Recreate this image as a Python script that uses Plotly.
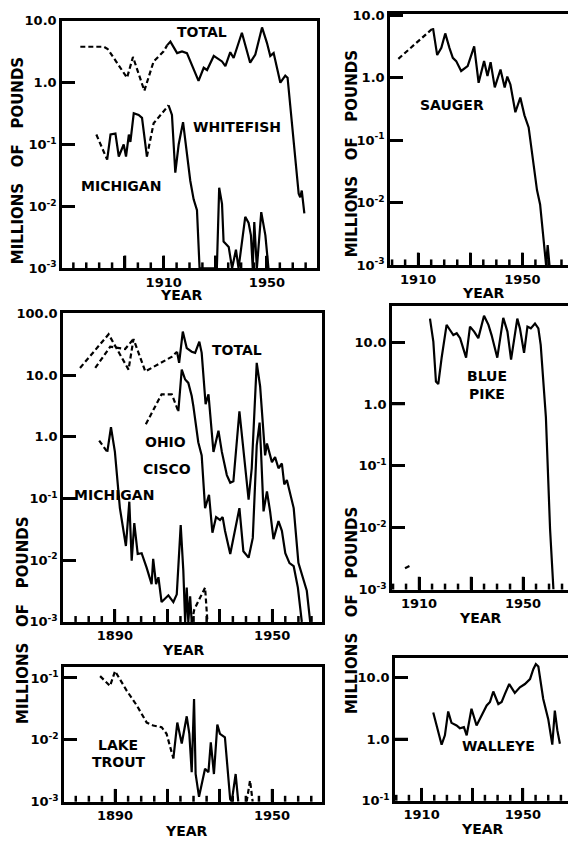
import math
import plotly.graph_objects as go

W, H = 568, 848
FONT = "DejaVu Sans"

# ---------------- DATA (millions of pounds) ----------------
# Whitefish
wf_total_early_years = [1877.7, 1882, 1886.8, 1888.3, 1895.8, 1898.1, 1902.5, 1906.1, 1910, 1911.3]
wf_total_early = [3.8, 3.8, 3.8, 3.5, 1.2, 2.6, 0.74, 2.2, 3.2, 4.0]
wf_total_years = [1911.3, 1912.6, 1915.2, 1917.1, 1919, 1923.5, 1925.5, 1926.8, 1929.4, 1932.6, 1933.9,
                  1935.8, 1937.1, 1940.3, 1943.5, 1945.5, 1948.1, 1950, 1951.3, 1952.6, 1955.2, 1957.1,
                  1958, 1962.3, 1962.9, 1963.5, 1964.5]
wf_total = [4.0, 4.6, 3.0, 3.2, 3.0, 1.07, 1.74, 1.6, 2.7, 2.2, 1.85, 3.1, 2.5, 6.4, 2.1, 2.85, 7.8,
            4.4, 2.7, 3.0, 1.0, 1.3, 1.2, 0.016, 0.014, 0.018, 0.0077]
wf_mich_early_years = [1883.9, 1888.1]
wf_mich_early = [0.145, 0.057]
wf_mich_a_years = [1888.1, 1889.4, 1891.3, 1892.6, 1894.5, 1895.4, 1896.5, 1897.1, 1898.4, 1900.3,
                   1901.6, 1903.5]
wf_mich_a = [0.057, 0.145, 0.15, 0.064, 0.1, 0.064, 0.145, 0.11, 0.32, 0.3, 0.27, 0.064]
wf_mich_gap_years = [1903.5, 1906.1, 1911.9]
wf_mich_gap = [0.064, 0.22, 0.43]
wf_mich_b_years = [1911.9, 1913.2, 1914.5, 1915.8, 1917.5, 1920.3, 1921.6, 1922.9, 1923.9, 1930.6,
                   1931.5, 1932.6, 1933.2, 1935.2, 1936.5, 1938, 1939, 1941.6, 1942.9, 1943.8, 1944.5,
                   1945.1, 1946.1, 1947.8, 1949.4, 1950.6]
wf_mich_b = [0.43, 0.3, 0.035, 0.1, 0.23, 0.026, 0.013, 0.0087, 0.001, 0.001, 0.02, 0.011, 0.0027,
             0.0022, 0.001, 0.002, 0.001, 0.0068, 0.0054, 0.0034, 0.001, 0.0056, 0.001, 0.0081,
             0.0034, 0.001]

# Sauger
sg_early_years = [1902.4, 1915.7]
sg_early = [2.0, 6.2]
sg_years = [1915.7, 1917.3, 1918.9, 1920.4, 1922, 1923.3, 1924.6, 1926.5, 1929, 1931.5, 1933.2, 1935.3,
            1936.6, 1937.8, 1939.4, 1941.6, 1943.2, 1944.2, 1945.4, 1947.3, 1949.2, 1950.8, 1952.4,
            1955.6, 1956.8, 1959.1, 1959.7, 1960.4]
sg = [6.2, 2.3, 3.0, 5.1, 3.0, 2.07, 1.84, 1.28, 1.53, 3.16, 0.83, 1.84, 1.06, 1.77, 0.7, 1.35, 0.7,
      1.04, 0.78, 0.28, 0.48, 0.25, 0.16, 0.016, 0.0094, 0.001, 0.0021, 0.001]

# Cisco
ci_total_early_years = [1876.7, 1887.6, 1895.2, 1897.1, 1901.6, 1911.8, 1913.7]
ci_total_early = [13.1, 46, 12.3, 38.5, 11.5, 20, 24]
ci_total_early2_years = [1882.5, 1888.2, 1893.9, 1897.1]
ci_total_early2 = [13.1, 28.9, 26.6, 38.5]
ci_total_years = [1913.7, 1914.5, 1915.9, 1917.4, 1919.3, 1920.6, 1922.2, 1923.1, 1924.6, 1925.7,
                  1927.6, 1929.5, 1930.8, 1932.7, 1934, 1935.2, 1937.5, 1939, 1941, 1942.2, 1944.1,
                  1945.4, 1946.4, 1947.3, 1948, 1949.9, 1951.1, 1952.4, 1953.7, 1954.6, 1955.6,
                  1958.2, 1960, 1962.6, 1963.2, 1964.5]
ci_total = [24, 15.8, 51, 27.5, 24, 23, 35, 23, 3.4, 4.9, 0.57, 1.26, 0.57, 0.24, 0.18, 0.19, 2.6,
            0.64, 0.096, 0.31, 15.8, 6.6, 1.34, 0.5, 0.78, 0.39, 0.47, 0.31, 0.37, 0.17, 0.2, 0.07,
            0.0091, 0.0039, 0.0032, 0.001]
ci_ohio_early_years = [1901.8, 1907.8, 1911.7, 1914.2]
ci_ohio_early = [1.6, 4.9, 4.9, 2.6]
ci_ohio_years = [1914.2, 1915.5, 1916.8, 1918, 1919.3, 1919.9, 1921.8, 1923.1, 1924.4, 1925.9, 1927.2,
                 1928.6, 1930.1, 1931.1, 1932, 1934, 1937.5, 1939, 1941, 1942.6, 1944.1, 1945.2,
                 1945.7, 1946.7, 1948, 1949.2, 1950.5, 1952.4, 1953.7, 1955, 1956.6, 1958.2, 1959.8,
                 1961.3]
ci_ohio = [2.6, 12.3, 8.5, 7.5, 4.6, 3.2, 0.82, 0.5, 0.07, 0.115, 0.028, 0.05, 0.045, 0.05, 0.03,
           0.0126, 0.07, 0.014, 0.011, 0.023, 0.73, 1.7, 0.63, 0.062, 0.13, 0.062, 0.022, 0.043,
           0.03, 0.013, 0.009, 0.008, 0.0036, 0.001]
ci_mich_early_years = [1884, 1887.1]
ci_mich_early = [0.87, 0.57]
ci_mich_years = [1887.1, 1888.5, 1890, 1891.9, 1894.2, 1895.5, 1896.4, 1897.4, 1898.7, 1900.2, 1902.1,
                 1904, 1904.6, 1905.7, 1906.6, 1907.8, 1910.4, 1912.3, 1913.6, 1915.1, 1916.1, 1916.8,
                 1917.4, 1918, 1918.7, 1919.3]
ci_mich = [0.57, 1.43, 0.57, 0.07, 0.017, 0.089, 0.0098, 0.04, 0.0126, 0.013, 0.0076, 0.0041, 0.0105,
           0.0041, 0.0053, 0.0021, 0.0027, 0.0021, 0.0028, 0.037, 0.0068, 0.001, 0.0036, 0.001,
           0.0026, 0.001]
ci_mich_late_years = [1919.3, 1920.3, 1924.4, 1925.3]
ci_mich_late = [0.001, 0.0016, 0.0036, 0.001]

# Blue pike
bp_early_years = [1904.6, 1907.2]
bp_early = [0.0022, 0.0025]
bp_years = [1914.2, 1915.5, 1916.5, 1917.4, 1918.7, 1920.6, 1921.9, 1923.2, 1924.5, 1925.8, 1928.1,
            1929.6, 1931.2, 1932.8, 1935, 1936.7, 1937.9, 1940.1, 1942.4, 1944, 1945.4, 1947.8,
            1948.8, 1950.4, 1951.7, 1953, 1954.6, 1955.9, 1956.8, 1958.8, 1960.4, 1961.7]
bp = [24, 10.2, 2.3, 2.1, 5.6, 19, 15.7, 13, 13.9, 11.6, 5.6, 17.8, 14.8, 11.6, 26.7, 19, 13, 5.6,
      24.7, 14.8, 5.2, 24, 16.7, 6.7, 17.8, 16.7, 20, 16.7, 9, 0.61, 0.0095, 0.001]

# Lake trout
lt_early_years = [1884.3, 1888.1, 1890, 1894.5, 1898.3, 1902.1, 1904.6, 1907.8, 1909.7, 1912.3]
lt_early = [0.107, 0.074, 0.129, 0.062, 0.036, 0.019, 0.017, 0.016, 0.0125, 0.005]
lt_years = [1912.3, 1913.8, 1915.5, 1917.4, 1918.4, 1919.3, 1920.2, 1920.8, 1922.1, 1923.1, 1924.4,
            1925.7, 1926.6, 1927.3, 1927.8, 1929.1, 1930.1, 1932, 1934, 1934.6, 1936.1, 1937.1]
lt = [0.005, 0.019, 0.0087, 0.024, 0.0125, 0.003, 0.0455, 0.0028, 0.0012, 0.002, 0.0034, 0.003,
      0.0091, 0.0046, 0.0028, 0.0176, 0.0125, 0.011, 0.0011, 0.001, 0.0028, 0.001]
lt_late_years = [1940.3, 1941.6, 1942.6]
lt_late = [0.001, 0.0022, 0.001]

# Walleye
we_years = [1914.6, 1916.2, 1917.9, 1919.2, 1920.5, 1921.8, 1923.8, 1925.1, 1926.7, 1927.8, 1929.7,
            1931.7, 1933.7, 1935.7, 1937, 1938.3, 1940.3, 1941.6, 1942.9, 1944.6, 1946.8, 1948.8,
            1950.8, 1952.8, 1954.1, 1955.1, 1956.1, 1957, 1958, 1960, 1961.6, 1962.6, 1963.6, 1964.6]
we = [2.7, 1.47, 0.81, 1.15, 2.8, 1.83, 1.66, 1.5, 1.56, 1.15, 3.1, 1.66, 2.4, 3.5, 4.0, 5.9, 3.7,
      4.0, 5.4, 7.8, 5.6, 6.9, 7.8, 9.4, 13.6, 16.4, 15, 7.8, 4.5, 2.1, 0.81, 2.9, 1.38, 0.84]

# tick labels
dec_vals = [0.001, 0.01, 0.1, 1, 10, 100]
dec_text = ["10<sup>-3</sup>", "10<sup>-2</sup>", "10<sup>-1</sup>", "1.0", "10.0", "100.0"]
minor_years = list(range(1870, 1971, 5))

# ---------------- FIGURE ----------------
fig = go.Figure()


def aid(i):
    return "" if i == "1" else i


def line(xs, ys, ax, dash=False):
    fig.add_trace(go.Scatter(
        x=xs, y=ys, mode="lines", xaxis="x" + aid(ax), yaxis="y" + aid(ax),
        line=dict(color="black", width=2.2, dash="5px,3px" if dash else "solid"),
        showlegend=False, hoverinfo="skip"))


# panel 1 whitefish
line(wf_total_early_years, wf_total_early, "1", True)
line(wf_total_years, wf_total, "1")
line(wf_mich_early_years, wf_mich_early, "1", True)
line(wf_mich_a_years, wf_mich_a, "1")
line(wf_mich_gap_years, wf_mich_gap, "1", True)
line(wf_mich_b_years, wf_mich_b, "1")
# panel 2 sauger
line(sg_early_years, sg_early, "2", True)
line(sg_years, sg, "2")
# panel 3 cisco
line(ci_total_early_years, ci_total_early, "3", True)
line(ci_total_early2_years, ci_total_early2, "3", True)
line(ci_total_years, ci_total, "3")
line(ci_ohio_early_years, ci_ohio_early, "3", True)
line(ci_ohio_years, ci_ohio, "3")
line(ci_mich_early_years, ci_mich_early, "3", True)
line(ci_mich_years, ci_mich, "3")
line(ci_mich_late_years, ci_mich_late, "3", True)
# panel 4 blue pike
line(bp_early_years, bp_early, "4", True)
line(bp_years, bp, "4")
# panel 5 lake trout
line(lt_early_years, lt_early, "5", True)
line(lt_years, lt, "5")
line(lt_late_years, lt_late, "5", True)
# panel 6 walleye
line(we_years, we, "6")

tickfont = dict(family=FONT, size=13, color="black", weight="bold")
shapes = []


def axes(i, xd, yd, xr, yr, xmaj, xlab, ylo, yhi, right_line=True):
    key = aid(i)
    yv = [v for v in dec_vals if ylo <= v <= yhi]
    yt = [dec_text[dec_vals.index(v)] for v in yv]
    dom = [xd[0] / W, min(xd[1] / W, 1.0)]
    wpx = xd[1] - xd[0]
    hpx = yd[1] - yd[0]
    fig.update_layout(**{
        "xaxis" + key: dict(
            domain=dom, range=list(xr), anchor="y" + key,
            showline=True, linecolor="black", linewidth=2.5, mirror=True,
            ticks="inside", ticklen=13, tickwidth=2.5, tickcolor="#000000",
            tickmode="array", tickvals=xmaj,
            ticktext=[str(v) if v in xlab else " " for v in xmaj],
            tickfont=tickfont, showgrid=False, zeroline=False),
        "yaxis" + key: dict(
            domain=[1 - yd[1] / H, 1 - yd[0] / H], type="log", range=list(yr), anchor="x" + key,
            showline=True, linecolor="black", linewidth=2.5, mirror=right_line,
            ticks="inside", ticklen=13, tickwidth=2.5, tickcolor="#000000",
            tickmode="array", tickvals=yv, ticktext=yt, tickfont=tickfont,
            showgrid=False, zeroline=False),
    })
    # tick marks along the axes (tall at major years, short every 5 years)
    for v in minor_years:
        if xr[0] < v < xr[1]:
            ln = 13 if v in xmaj else 6
            shapes.append(dict(type="line", xref="x" + key, yref="y" + key + " domain",
                               x0=v, x1=v, y0=0, y1=ln / hpx,
                               line=dict(color="black", width=2.5), layer="above"))
    for v in yv:
        lv = math.log10(v)
        if yr[0] < lv < yr[1]:
            shapes.append(dict(type="line", xref="x" + key + " domain", yref="y" + key,
                               x0=0, x1=13 / wpx, y0=lv, y1=lv,
                               line=dict(color="black", width=2.5), layer="above"))


axes("1", (62, 317), (14, 266), (1870.6, 1969.4), (-3, 1), [1895, 1910, 1930, 1950], [1910, 1950], 0.001, 10)
axes("2", (390, 568), (7, 263), (1899.2, 1967.5), (-3, 1.02), [1910, 1930, 1950], [1910, 1950], 0.001, 10, False)
axes("3", (63, 322), (312, 626), (1870.2, 1969), (-3, 2), [1890, 1910, 1930, 1950], [1890, 1950], 0.001, 100)
axes("4", (392, 568), (304, 593), (1899.6, 1967.3), (-3, 1.59), [1910, 1930, 1950], [1910, 1950], 0.001, 10, False)
axes("5", (64, 322), (672, 809), (1870.5, 1969.1), (-3, -0.825), [1890, 1910, 1930, 1950], [1890, 1950], 0.001, 0.1)
axes("6", (395, 568), (663, 808), (1899.5, 1967.8), (-1, 1.31), [1910, 1930, 1950], [1910, 1950], 0.1, 10, False)

labels = [
    ("TOTAL", 202, 25), ("WHITEFISH", 237, 122), ("MICHIGAN", 121, 182),
    ("SAUGER", 452, 100),
    ("TOTAL", 237, 349), ("OHIO", 165, 443), ("CISCO", 167, 470), ("MICHIGAN", 114, 497),
    ("BLUE", 487, 376), ("PIKE", 487, 394),
    ("LAKE", 118, 751), ("TROUT", 119, 769),
    ("WALLEYE", 498, 752),
    ("YEAR", 181, 293), ("YEAR", 483, 291), ("YEAR", 183, 655),
    ("YEAR", 480, 622), ("YEAR", 186, 839), ("YEAR", 482, 837),
]
for txt, px, py in labels:
    fig.add_annotation(text=txt, x=px / W, y=1 - py / H, xref="paper", yref="paper",
                       showarrow=False, xanchor="center", yanchor="middle", borderpad=0,
                       font=dict(family=FONT, size=14, color="black", weight="bold"))

ytitle = "MILLIONS\u00a0\u00a0\u00a0OF\u00a0\u00a0\u00a0POUNDS"
for px, py in [(18, 157), (352, 150), (23, 625), (352, 615)]:
    fig.add_annotation(text=ytitle, x=px / W, y=1 - py / H, xref="paper", yref="paper",
                       showarrow=False, xanchor="center", yanchor="middle", textangle=-90,
                       font=dict(family=FONT, size=15, color="black", weight="bold"))

fig.update_layout(width=W, height=H, autosize=False, margin=dict(l=0, r=0, t=0, b=0),
                  paper_bgcolor="white", plot_bgcolor="white", showlegend=False,
                  shapes=shapes)

fig.write_html("out.html", config={"displayModeBar": False},
               post_script="document.body.style.margin='0';document.body.style.padding='0';"
                           "document.body.style.overflow='hidden';")
